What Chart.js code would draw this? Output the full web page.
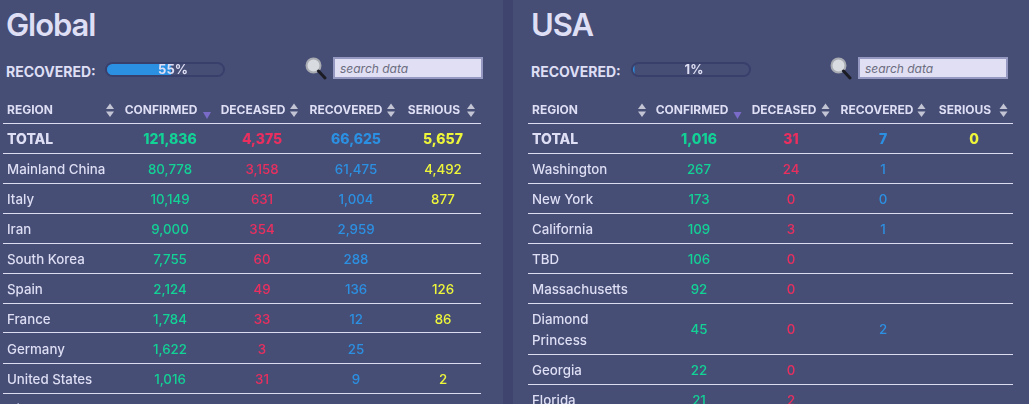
<!DOCTYPE html>
<html>
<head>
<meta charset="utf-8">
<script src="https://cdn.jsdelivr.net/npm/chart.js@4"></script>
<style>
    html, body { margin: 0; padding: 0; width: 1029px; height: 404px; overflow: hidden; background: #3e446e; font-family: Inter, sans-serif; }
    .panel { position: absolute; top: 0; height: 404px; background: #464e76; overflow: hidden; }
    #globalPanel { left: 0; width: 503px; }
    #usaPanel { left: 513px; width: 516px; }
    h1 { position: absolute; margin: 0; top: 5px; font-size: 31px; line-height: 40px; font-weight: 600; color: #dedef4; letter-spacing: -1.1px; }
    .recLabel { position: absolute; top: 63px; font-size: 14px; line-height: 18px; font-weight: 700; color: #dedef4; white-space: nowrap; }
    .track { position: absolute; top: 62px; width: 120px; height: 15px; box-sizing: border-box; border: 2px solid #393f6b; border-radius: 8px; overflow: hidden; }
    .track canvas { position: absolute; left: 0; top: 0; }
    .glass { position: absolute; top: 57px; }
    input { position: absolute; top: 57px; width: 150px; height: 22px; box-sizing: border-box; border: 2px solid #9599c2; background: #e1dff3; padding: 0 5px; font-family: Inter, sans-serif; font-size: 12px; font-style: italic; outline: none; }
    input::placeholder { color: #6b6d80; opacity: 1; }
    .tableCanvas { position: absolute; left: 0; top: 96px; }
</style>
</head>
<body>
<div class="panel" id="globalPanel">
    <h1 style="left:6px">Global</h1>
    <div class="recLabel" style="left:6px">RECOVERED:</div>
    <div class="track" style="left:105px"><canvas id="globalBar" width="116" height="11"></canvas></div>
    <svg class="glass" style="left:305px" width="22" height="23" viewBox="0 0 22 23"><circle cx="8.5" cy="8.5" r="7" fill="#d8dbe0" stroke="#a9acb2" stroke-width="2"/><line x1="13.5" y1="14" x2="20" y2="21" stroke="#1c1c24" stroke-width="3" stroke-linecap="round"/></svg>
    <input style="left:333px" placeholder="search data">
    <canvas class="tableCanvas" id="globalTable" width="503" height="308"></canvas>
</div>
<div class="panel" id="usaPanel">
    <h1 style="left:18px">USA</h1>
    <div class="recLabel" style="left:18px">RECOVERED:</div>
    <div class="track" style="left:118px"><canvas id="usaBar" width="116" height="11"></canvas></div>
    <svg class="glass" style="left:317px" width="22" height="23" viewBox="0 0 22 23"><circle cx="8.5" cy="8.5" r="7" fill="#d8dbe0" stroke="#a9acb2" stroke-width="2"/><line x1="13.5" y1="14" x2="20" y2="21" stroke="#1c1c24" stroke-width="3" stroke-linecap="round"/></svg>
    <input style="left:345px" placeholder="search data">
    <canvas class="tableCanvas" id="usaTable" width="516" height="308"></canvas>
</div>
<script>
// Data
const headers = ['REGION', 'CONFIRMED', 'DECEASED', 'RECOVERED', 'SERIOUS'];

const globalRecoveredPct = [55];
const globalRegions = ['TOTAL', 'Mainland China', 'Italy', 'Iran', 'South Korea', 'Spain', 'France', 'Germany', 'United States', ['Diamond', 'Princess']];
const globalConfirmed = [121836, 80778, 10149, 9000, 7755, 2124, 1784, 1622, 1016, null];
const globalDeceased = [4375, 3158, 631, 354, 60, 49, 33, 3, 31, null];
const globalRecovered = [66625, 61475, 1004, 2959, 288, 136, 12, 25, 9, null];
const globalSerious = [5657, 4492, 877, null, null, 126, 86, null, 2, null];

const usaRecoveredPct = [1];
const usaRegions = ['TOTAL', 'Washington', 'New York', 'California', 'TBD', 'Massachusetts', ['Diamond', 'Princess'], 'Georgia', 'Florida'];
const usaConfirmed = [1016, 267, 173, 109, 106, 92, 45, 22, 21];
const usaDeceased = [31, 24, 0, 3, 0, 0, 0, 0, 2];
const usaRecovered = [7, 1, 0, 1, null, null, 2, null, null];
const usaSerious = [0, null, null, null, null, null, null, null, null];

const columnColors = ['#12d296', '#ea2f5f', '#2c90e2', '#eef63a'];
const textColor = '#dedef4';
const font = 'Inter, sans-serif';

// Row geometry: header 27px, then 30px per row and 21px for every extra text line
const headerHeight = 27;
const rowHeight = 30;
const lineHeight = 21;
const tableHeight = 308;
const textNudge = 1.5; // canvas 'middle' sits a bit high compared with the original cells

function lineCount(label) {
    return Array.isArray(label) ? label.length : 1;
}

function triangle(ctx, x, tipY, baseY, halfWidth, color) {
    ctx.fillStyle = color;
    ctx.beginPath();
    ctx.moveTo(x, tipY);
    ctx.lineTo(x - halfWidth, baseY);
    ctx.lineTo(x + halfWidth, baseY);
    ctx.closePath();
    ctx.fill();
}

// Cell text is hung on the chart's own points
const tableTextPlugin = {
    id: 'tableText',
    afterDatasetsDraw(chart, args, opts) {
        const ctx = chart.ctx;
        const yScale = chart.scales.y;
        const xScale = chart.scales.x;
        ctx.save();
        ctx.textBaseline = 'middle';

        // header row
        const headerY = yScale.getPixelForValue(14);
        ctx.font = `700 12px ${font}`;
        ctx.fillStyle = textColor;
        headers.forEach((h, i) => {
            ctx.textAlign = i === 0 ? 'left' : 'center';
            ctx.fillText(h, xScale.getPixelForValue(opts.headerX[i]), headerY);
        });
        opts.arrowX.forEach((ax, i) => {
            const px = xScale.getPixelForValue(ax);
            if (i === 1) {
                triangle(ctx, px, headerY + 9, headerY + 2, 4, '#7a6bc9');
            } else {
                triangle(ctx, px, headerY - 6.5, headerY - 1, 4, '#c4c5d4');
                triangle(ctx, px, headerY + 7, headerY + 1.5, 4, '#c4c5d4');
            }
        });

        // region names
        const regionMeta = chart.getDatasetMeta(0);
        opts.regions.forEach((label, r) => {
            const pt = regionMeta.data[r];
            const lines = Array.isArray(label) ? label : [label];
            ctx.textAlign = 'left';
            ctx.fillStyle = textColor;
            ctx.font = r === 0 ? `800 14px ${font}` : `500 13.3px ${font}`;
            lines.forEach((line, l) => {
                ctx.fillText(line, pt.x, pt.y + textNudge + (l - (lines.length - 1) / 2) * lineHeight);
            });
        });

        // value columns
        opts.columns.forEach((values, c) => {
            const meta = chart.getDatasetMeta(c + 1);
            ctx.textAlign = 'center';
            ctx.fillStyle = columnColors[c];
            values.forEach((v, r) => {
                if (v === null) return;
                ctx.font = r === 0 ? `800 14px ${font}` : `500 13.3px ${font}`;
                const pt = meta.data[r];
                ctx.fillText(v.toLocaleString('en-US'), pt.x, pt.y + textNudge);
            });
        });
        ctx.restore();
    }
};

function makeTable(canvasId, regions, columns, layout) {
    // row boundaries and centres in table pixels
    const centers = [];
    const lines = [headerHeight];
    let y = headerHeight;
    regions.forEach(label => {
        const h = rowHeight + (lineCount(label) - 1) * lineHeight;
        centers.push(y + h / 2);
        y += h;
        if (y < tableHeight) lines.push(y);
    });

    const pointStyle = { pointRadius: 0, showLine: false };
    const datasets = [{
        ...pointStyle,
        label: 'Region',
        data: regions.map((label, r) => ({ x: layout.regionX, y: centers[r] }))
    }];
    columns.forEach((values, c) => {
        datasets.push({
            ...pointStyle,
            label: headers[c + 1],
            data: values.map((v, r) => ({ x: layout.valueX[c], y: centers[r] }))
        });
    });

    new Chart(document.getElementById(canvasId), {
        type: 'scatter',
        data: { datasets: datasets },
        plugins: [tableTextPlugin],
        options: {
            responsive: false,
            animation: false,
            events: [],
            layout: { padding: { left: layout.left, right: layout.right, top: 0, bottom: 0 } },
            plugins: {
                legend: { display: false },
                tooltip: { enabled: false },
                tableText: { regions: regions, columns: columns, headerX: layout.headerX, arrowX: layout.arrowX }
            },
            scales: {
                x: {
                    type: 'linear',
                    display: false,
                    min: layout.left,
                    max: layout.width - layout.right
                },
                y: {
                    type: 'linear',
                    reverse: true,
                    min: 0,
                    max: tableHeight,
                    afterBuildTicks: axis => { axis.ticks = lines.map(v => ({ value: v })); },
                    grid: { color: '#dcdcf0', lineWidth: 1, drawTicks: false },
                    border: { display: false },
                    ticks: { display: false }
                }
            }
        }
    });
}

function makeBar(canvasId, pct, textOffset) {
    new Chart(document.getElementById(canvasId), {
        type: 'bar',
        data: {
            labels: ['RECOVERED'],
            datasets: [{ data: pct, backgroundColor: '#2c90e2', barPercentage: 1, categoryPercentage: 1 }]
        },
        plugins: [{
            id: 'pctText',
            afterDatasetsDraw(chart) {
                const ctx = chart.ctx;
                ctx.save();
                ctx.font = `700 13px ${font}`;
                ctx.fillStyle = textColor;
                ctx.textAlign = 'center';
                ctx.textBaseline = 'middle';
                ctx.fillText(pct[0] + '%', chart.width / 2 + textOffset, chart.height / 2 + 1);
                ctx.restore();
            }
        }],
        options: {
            indexAxis: 'y',
            responsive: false,
            animation: false,
            events: [],
            plugins: { legend: { display: false }, tooltip: { enabled: false } },
            scales: {
                x: { display: false, min: 0, max: 100 },
                y: { display: false }
            }
        }
    });
}

makeBar('globalBar', globalRecoveredPct, 8);
makeBar('usaBar', usaRecoveredPct, 3);

makeTable('globalTable', globalRegions, [globalConfirmed, globalDeceased, globalRecovered, globalSerious], {
    width: 503, left: 3, right: 22, regionX: 7,
    valueX: [170, 262, 356, 443],
    headerX: [7, 161, 253, 346, 434],
    arrowX: [110, 207, 294, 391, 471]
});

makeTable('usaTable', usaRegions, [usaConfirmed, usaDeceased, usaRecovered, usaSerious], {
    width: 516, left: 15, right: 16, regionX: 19,
    valueX: [186, 278, 370, 461],
    headerX: [19, 179, 271, 364, 452],
    arrowX: [129, 224.5, 312.5, 408.5, 490.5]
});
</script>
</body>
</html>
